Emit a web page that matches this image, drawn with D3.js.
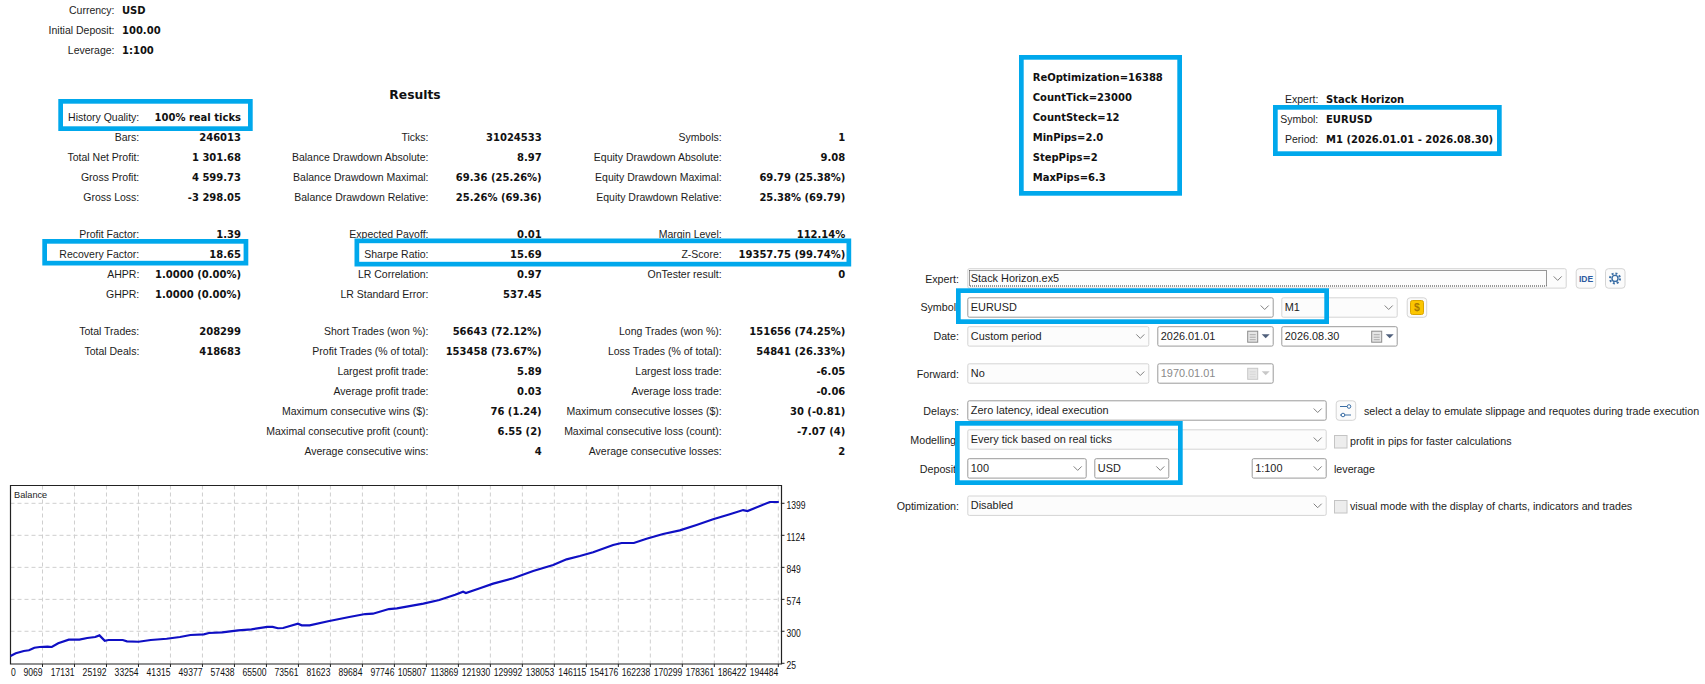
<!DOCTYPE html>
<html><head><meta charset="utf-8">
<script src="https://cdn.jsdelivr.net/npm/d3@7"></script>
<style>
html,body{margin:0;padding:0;background:#fff;overflow:hidden}
svg{display:block}
text{font-family:"Liberation Sans",Arial,sans-serif;font-size:10.5px;fill:#1c1c1c}
.b{font-family:"DejaVu Sans",sans-serif;font-weight:700;font-size:10px;fill:#111}
.ax{font-family:"Liberation Sans",sans-serif;font-size:11px;fill:#111}
</style></head><body><div id="c"></div>
<script>
// ---------- data ----------
const headerLabels=["Currency:","Initial Deposit:","Leverage:"];
const headerValues=["USD","100.00","1:100"];
const col1Labels=["History Quality:","Bars:","Total Net Profit:","Gross Profit:","Gross Loss:","Profit Factor:","Recovery Factor:","AHPR:","GHPR:","Total Trades:","Total Deals:"];
const col1Values=["100% real ticks","246013","1 301.68","4 599.73","-3 298.05","1.39","18.65","1.0000 (0.00%)","1.0000 (0.00%)","208299","418683"];
const col2Labels=["","Ticks:","Balance Drawdown Absolute:","Balance Drawdown Maximal:","Balance Drawdown Relative:","Expected Payoff:","Sharpe Ratio:","LR Correlation:","LR Standard Error:","Short Trades (won %):","Profit Trades (% of total):","Largest profit trade:","Average profit trade:","Maximum consecutive wins ($):","Maximal consecutive profit (count):","Average consecutive wins:"];
const col2Values=["","31024533","8.97","69.36 (25.26%)","25.26% (69.36)","0.01","15.69","0.97","537.45","56643 (72.12%)","153458 (73.67%)","5.89","0.03","76 (1.24)","6.55 (2)","4"];
const col3Labels=["","Symbols:","Equity Drawdown Absolute:","Equity Drawdown Maximal:","Equity Drawdown Relative:","Margin Level:","Z-Score:","OnTester result:","","Long Trades (won %):","Loss Trades (% of total):","Largest loss trade:","Average loss trade:","Maximum consecutive losses ($):","Maximal consecutive loss (count):","Average consecutive losses:"];
const col3Values=["","1","9.08","69.79 (25.38%)","25.38% (69.79)","112.14%","19357.75 (99.74%)","0","","151656 (74.25%)","54841 (26.33%)","-6.05","-0.06","30 (-0.81)","-7.07 (4)","2"];
const paramLines=["ReOptimization=16388","CountTick=23000","CountSteck=12","MinPips=2.0","StepPips=2","MaxPips=6.3"];
const infoLabels=["Expert:","Symbol:","Period:"];
const infoValues=["Stack Horizon","EURUSD","M1 (2026.01.01 - 2026.08.30)"];
const balanceTrades=[1008,2343,4358,5668,7029,8364,10354,11412,13025,15695,18365,20355,22346,23429,24764,25696,29299,30357,33279,36352,40358,43708,46354,49705,51014,54365,58370,61721,65726,67061,68397,69707,73435,74392,76382,81043,86384,90389,92329,96360,98375,105051,109056,113062,115052,115758,119284,122635,127673,132711,137750,141126,144474,147827,152865,154982,158080,161278,165461,169668,173876,178058,182266,185615,186723,192341,194608];
const balanceValues=[88,111,131,137,159,165,168,165,197,228,228,242,251,265,219,225,225,214,210,225,236,251,268,274,285,291,308,317,337,337,326,328,365,351,351,386,423,448,451,491,497,537,569,614,640,629,669,709,755,818,869,918,946,978,1041,1058,1058,1095,1135,1167,1213,1262,1305,1341,1333,1410,1410];
const yTicks=[25,300,574,849,1124,1399];
const xTicks=[9069,17131,25192,33254,41315,49377,57438,65500,73561,81623,89684,97746,105807,113869,121930,129992,138053,146115,154176,162238,170299,178361,186422,194484];

// ---------- page ----------
const svg=d3.select("#c").append("svg").attr("width",1705).attr("height",684);
const blue="#00a8ec";
const uiSize="10.7px";
function label(x,y,t,anchor,cls){
  return svg.append("text").attr("x",x).attr("y",y+4).attr("text-anchor",anchor||"start").attr("class",cls||null).text(t);
}
function axisLabel(xp,yp,t,anchor){
  return svg.append("text").attr("class","ax").attr("text-anchor",anchor)
    .attr("transform",`translate(${xp},${yp+4}) scale(0.78,1)`).text(t);
}
// report header
headerLabels.forEach((t,i)=>{label(114.5,10+i*20,t,"end");label(122,10+i*20,headerValues[i],"start","b");});
label(415,95,"Results","middle","b").style("font-size","12.3px");

// statistic table
const rowY=[116.7,136.7,156.7,176.7,196.7,234,254,274,294,330.5,350.5,370.5,390.5,410.5,430.5,450.5];
[[col1Labels,col1Values,139.3,241],[col2Labels,col2Values,428.5,541.7],[col3Labels,col3Values,721.7,845.3]].forEach(c=>{
  c[0].forEach((t,i)=>{ if(t) label(c[2],rowY[i],t,"end"); });
  c[1].forEach((t,i)=>{ if(t) label(c[3],rowY[i],t,"end","b"); });
});
// parameters and info block
paramLines.forEach((t,i)=>label(1032.7,76.7+i*20,t,"start","b"));
infoLabels.forEach((t,i)=>{label(1318.3,99+i*20,t,"end");label(1326,99+i*20,infoValues[i],"start","b");});

// ---------- balance chart ----------
const L=10.5,R=781.5,T=485.5,B=664;
const x=d3.scaleLinear().domain([1008,194484]).range([L,778.3]);
const y=d3.scaleLinear().domain([25,1399]).range([663.3,503.3]);
const grid=svg.append("g").attr("stroke","#cfcfcf").attr("stroke-width",1).attr("stroke-dasharray","4,3");
grid.selectAll("line.v").data(xTicks).join("line").attr("x1",d=>x(d)).attr("x2",d=>x(d)).attr("y1",T).attr("y2",B);
grid.selectAll("line.h").data(yTicks.slice(1)).join("line").attr("x1",L).attr("x2",R).attr("y1",d=>y(d)).attr("y2",d=>y(d));
svg.append("path").attr("d",`M${L},${B}V${T}H${R}V${B}Z`).attr("fill","none").attr("stroke","#222").attr("stroke-width",1.2);
const line=d3.line().x(d=>x(d[0])).y(d=>y(d[1]));
svg.append("path").datum(balanceTrades.map((t,i)=>[t,balanceValues[i]])).attr("d",line).attr("fill","none").attr("stroke","#0f0fc4").attr("stroke-width",2.2);
label(14,494,"Balance").style("font-size","9.2px");
svg.append("g").attr("stroke","#222").selectAll("line").data(yTicks).join("line").attr("x1",R).attr("x2",R+3).attr("y1",d=>y(d)).attr("y2",d=>y(d));
svg.append("g").attr("stroke","#222").selectAll("line").data(xTicks).join("line").attr("x1",d=>x(d)).attr("x2",d=>x(d)).attr("y1",B).attr("y2",B+3);
yTicks.forEach(v=>axisLabel(786.5,y(v)+1.6,String(v),"start"));
axisLabel(11,672,"0","start");
xTicks.forEach(v=>axisLabel(x(v),672,String(v),"end"));

// ---------- tester settings dialog ----------
function chevron(cx,cy,c){svg.append("path").attr("d",`M${cx-4},${cy-2}L${cx},${cy+2}L${cx+4},${cy-2}`).attr("fill","none").attr("stroke",c||"#777");}
function combo(x0,x1,y0,t,o){
  o=o||{};
  const h=20.4;
  svg.append("rect").attr("x",x0+.5).attr("y",y0+.5).attr("width",x1-x0-1).attr("height",h-1).attr("rx",1.5)
    .attr("fill",o.light?"#fcfcfc":"#fff").attr("stroke",o.light?"#d4d4d4":"#9a9a9a");
  label(x0+3.5,y0+h/2-.5,t).style("fill",o.grey?"#8a8a8a":"#1c1c1c").style("font-size","10.9px");
  if(o.date){
    const ix=x1-26;
    svg.append("rect").attr("x",ix).attr("y",y0+5).attr("width",10).attr("height",11).attr("fill","#e6e6e6").attr("stroke",o.grey?"#c8c8c8":"#8a8a8a");
    svg.append("path").attr("d",`M${ix+2},${y0+8.5}h6M${ix+2},${y0+11}h6M${ix+2},${y0+13.5}h6`).attr("stroke",o.grey?"#d8d8d8":"#aaa");
    svg.append("path").attr("d",`M${ix+14},${y0+8}h8l-4,4z`).attr("fill",o.grey?"#c8c8c8":"#50607c");
  } else chevron(x1-9,y0+h/2,"#808080");
}
function side(t,yc){label(959,yc,t,"end").style("font-size",uiSize);}
function btn(x0,y0){svg.append("rect").attr("x",x0+.5).attr("y",y0+.5).attr("width",19.5).attr("height",19.5).attr("rx",3).attr("fill","#fbfbfb").attr("stroke","#d4d4d4");}
function check(yc){svg.append("rect").attr("x",1334.5).attr("y",yc-6).attr("width",12.5).attr("height",12.5).attr("fill","#ededed").attr("stroke","#c4c4c4");}

side("Expert:",279);
combo(967.3,1566.7,268.2,"Stack Horizon.ex5",{light:true});
svg.append("rect").attr("x",969.5).attr("y",270.5).attr("width",577).attr("height",15.5).attr("fill","none").attr("stroke","#333").attr("stroke-dasharray","1,1");
btn(1575.7,268.2);label(1586,278,"IDE","middle").style("font-size","8.5px").style("font-weight","700").style("fill","#2c5aa0");
btn(1605,268.2);
svg.append("circle").attr("cx",1615).attr("cy",278.4).attr("r",3).attr("fill","none").attr("stroke","#3a6ea5").attr("stroke-width",1.4);
svg.append("circle").attr("cx",1615).attr("cy",278.4).attr("r",5).attr("fill","none").attr("stroke","#3a6ea5").attr("stroke-width",2).attr("stroke-dasharray","2,1.9");

side("Symbol:",307);
combo(967.3,1273.7,297.3,"EURUSD");
combo(1281.3,1397.7,297.3,"M1",{light:true});
btn(1406.7,297.3);
svg.append("rect").attr("x",1410.5).attr("y",300.5).attr("width",13).attr("height",14).attr("rx",2).attr("fill","#fbc600").attr("stroke","#d9a400");
label(1417,307,"$","middle").style("fill","#a87a00").style("font-weight","700");

side("Date:",336);
combo(967.3,1149.3,326.2,"Custom period",{light:true});
combo(1157.3,1273.7,326.2,"2026.01.01",{date:true});
combo(1281.3,1397.7,326.2,"2026.08.30",{date:true});

side("Forward:",374);
combo(967.3,1149.3,363.3,"No",{light:true});
combo(1157.3,1273.7,363.3,"1970.01.01",{date:true,grey:true});

side("Delays:",411);
combo(967.3,1326.7,400.3,"Zero latency, ideal execution");
btn(1335.7,400.3);
svg.append("path").attr("d","M1340,406.5h11M1340,415h11").attr("stroke","#3a6ea5");
svg.append("circle").attr("cx",1349).attr("cy",406.5).attr("r",1.8).attr("fill","#fff").attr("stroke","#3a6ea5");
svg.append("circle").attr("cx",1343).attr("cy",415).attr("r",1.8).attr("fill","#fff").attr("stroke","#3a6ea5");
label(1364,411,"select a delay to emulate slippage and requotes during trade execution").style("font-size",uiSize);

side("Modelling:",440);
combo(967.3,1326.7,429.3,"Every tick based on real ticks",{light:true});
check(441.5);
label(1350,441,"profit in pips for faster calculations").style("font-size",uiSize);

side("Deposit:",469);
combo(967.3,1086.7,458.2,"100");
combo(1094.3,1169.3,458.2,"USD");
combo(1251.7,1326.7,458.2,"1:100");
label(1334,469,"leverage").style("font-size",uiSize);

side("Optimization:",506);
combo(967.3,1326.7,495.5,"Disabled",{light:true});
check(506.5);
label(1350,506,"visual mode with the display of charts, indicators and trades").style("font-size",uiSize);

// ---------- highlight boxes ----------
const sw=4.7;
function box(x0,y0,x1,y1){svg.append("rect").attr("x",x0+sw/2).attr("y",y0+sw/2).attr("width",x1-x0-sw).attr("height",y1-y0-sw).attr("fill","none").attr("stroke",blue).attr("stroke-width",sw);}
box(58.3,99,252.7,131);
box(42.3,239,248.3,265.5);
box(354.5,238.5,851.2,266.5);
box(1019,55,1182,195.7);
box(1273,105,1501.7,156);
box(956,288.3,1329,324);
box(955,421,1182.7,485);
</script></body></html>
